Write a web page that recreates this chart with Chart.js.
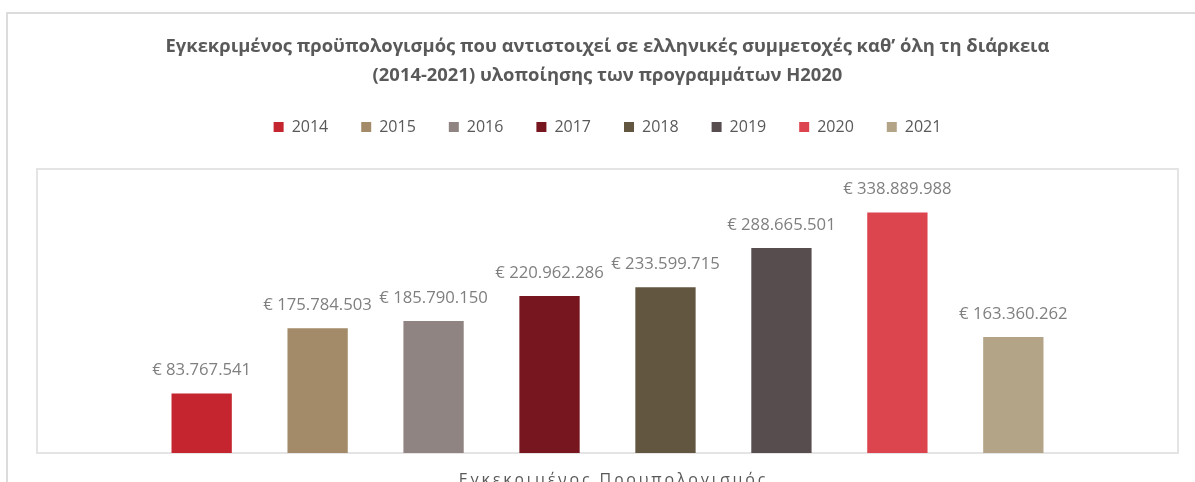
<!DOCTYPE html>
<html>
<head>
<meta charset="utf-8">
<script src="https://cdn.jsdelivr.net/npm/chart.js@4/dist/chart.umd.min.js"></script>
<style>
  html, body { margin: 0; padding: 0; background: #fff; overflow: hidden; }
  #frame { position: absolute; left: 6px; top: 12px; width: 1400px; height: 700px; border: 2px solid #dcdcdc; }
  #wrap { position: absolute; left: 0; top: 0; width: 1195px; height: 482px; }
</style>
</head>
<body>
<div id="frame"></div>
<div id="wrap"><canvas id="chart"></canvas></div>
<script>
var categories = ["Εγκεκριμένος Προυπολογισμός"];
var years = ["2014", "2015", "2016", "2017", "2018", "2019", "2020", "2021"];
var budgets = [83767541, 175784503, 185790150, 220962286, 233599715, 288665501, 338889988, 163360262];
var colors = ["#c4252e", "#a38b69", "#8f8482", "#77161e", "#625640", "#574d4e", "#dc444e", "#b3a387"];
var titleLines = [
  "Εγκεκριμένος προϋπολογισμός που αντιστοιχεί σε ελληνικές συμμετοχές καθ’ όλη τη διάρκεια",
  "(2014-2021) υλοποίησης των προγραμμάτων Η2020"
];

function euro(v) {
  return "€ " + String(v).replace(/\B(?=(\d{3})+(?!\d))/g, ".");
}

var datasets = [];
for (var i = 0; i < years.length; i++) {
  datasets.push({
    label: years[i],
    data: [budgets[i]],
    backgroundColor: colors[i],
    categoryPercentage: 0.813,
    barPercentage: 0.52
  });
}

// box around the plot area + value labels + spaced category label
var extras = {
  id: "extras",
  beforeLayout: function(chart) {
    // leave a gap between the legend and the plot box
    var lg = chart.legend;
    if (lg && !lg._gapPatched) {
      var fit = lg.fit;
      lg.fit = function() {
        fit.call(this);
        this.height += 24;
      };
      lg._gapPatched = true;
    }
  },
  beforeDatasetsDraw: function(chart) {
    var a = chart.chartArea, ctx = chart.ctx;
    ctx.save();
    ctx.strokeStyle = "#e4e4e4";
    ctx.lineWidth = 2;
    ctx.strokeRect(a.left, a.top, a.right - a.left, a.bottom - a.top);
    ctx.restore();
  },
  afterDatasetsDraw: function(chart) {
    var ctx = chart.ctx;
    ctx.save();
    ctx.font = "16.7px 'Open Sans'";
    ctx.fillStyle = "#7f7f7f";
    ctx.textAlign = "center";
    ctx.textBaseline = "middle";
    for (var i = 0; i < chart.data.datasets.length; i++) {
      var bar = chart.getDatasetMeta(i).data[0];
      ctx.fillText(euro(chart.data.datasets[i].data[0]), bar.x, bar.y - 23);
    }
    var a = chart.chartArea;
    ctx.font = "16px 'Open Sans'";
    ctx.fillStyle = "#595959";
    ctx.letterSpacing = "2.8px";
    ctx.textBaseline = "alphabetic";
    ctx.fillText(categories[0], (a.left + a.right) / 2 + 6, a.bottom + 32);
    ctx.restore();
  }
};

new Chart(document.getElementById("chart"), {
  type: "bar",
  data: { labels: categories, datasets: datasets },
  plugins: [extras],
  options: {
    responsive: true,
    maintainAspectRatio: false,
    animation: false,
    layout: { padding: { left: 37, right: 17, top: 20, bottom: 29 } },
    plugins: {
      title: {
        display: true,
        text: titleLines,
        color: "#595959",
        font: { family: "'Open Sans'", size: 18.4, weight: "bold", lineHeight: "29px" },
        padding: { top: 12, bottom: -4 }
      },
      legend: {
        position: "top",
        labels: {
          color: "#595959",
          font: { family: "'Open Sans'", size: 16 },
          boxWidth: 10,
          boxHeight: 10,
          padding: 33
        }
      },
      tooltip: { enabled: false }
    },
    scales: {
      x: { display: false },
      y: { display: false, min: 0, max: 400000000 }
    }
  }
});
</script>
</body>
</html>
